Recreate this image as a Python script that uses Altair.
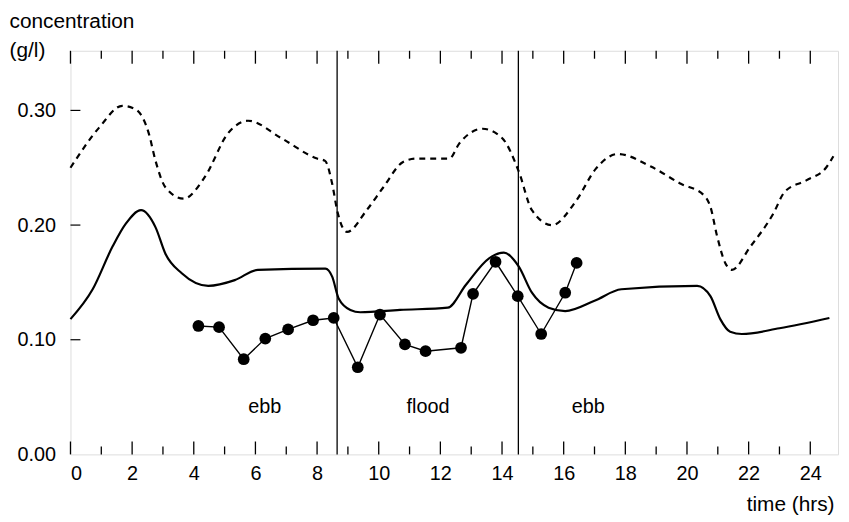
import altair as alt
import pandas as pd

# Model curve (upper, dashed)
dashed_x = [0, 0.93, 1.68, 2.11, 2.54, 2.76, 3.08, 3.67, 4.36, 5.11,
            5.76, 6.83, 8.0, 8.26, 8.49, 8.65, 8.97, 9.61, 10.15, 10.79,
            11.22, 12.29, 12.61, 13.37, 14.0, 14.54, 14.97, 15.62, 16.4, 17.04,
            17.76, 18.83, 19.8, 20.55, 20.76, 20.98, 21.24, 21.46, 22.05, 22.8,
            23.17, 23.87, 24.51, 24.75]
dashed_y = [0.250, 0.285, 0.304, 0.301, 0.280, 0.256, 0.233, 0.223, 0.242, 0.280,
            0.291, 0.276, 0.258, 0.256, 0.236, 0.213, 0.194, 0.213, 0.233, 0.255,
            0.258, 0.258, 0.271, 0.284, 0.276, 0.247, 0.213, 0.200, 0.221, 0.249,
            0.262, 0.251, 0.236, 0.226, 0.216, 0.190, 0.167, 0.161, 0.181, 0.210,
            0.229, 0.239, 0.250, 0.260]

# Model curve (lower, solid)
solid_x = [0, 0.72, 1.36, 1.79, 2.29, 2.76, 3.08, 3.61, 4.47, 5.33,
           6.08, 8.27, 8.49, 8.70, 9.08, 9.40, 10.69, 12.24, 12.83, 13.58,
           14.06, 14.54, 14.97, 15.51, 16.05, 17.0, 17.87, 20.33, 20.76, 21.08,
           21.4, 21.78, 23.0, 24.62]
solid_y = [0.118, 0.144, 0.181, 0.201, 0.213, 0.198, 0.175, 0.158, 0.147, 0.152,
           0.161, 0.162, 0.155, 0.136, 0.126, 0.124, 0.126, 0.128, 0.148, 0.171,
           0.176, 0.164, 0.141, 0.128, 0.125, 0.134, 0.144, 0.147, 0.138, 0.118,
           0.107, 0.105, 0.110, 0.119]

# Measurements
obs_x = [4.15, 4.82, 5.62, 6.32, 7.06, 7.87, 8.54, 9.32, 10.04, 10.85,
         11.52, 12.67, 13.06, 13.79, 14.51, 15.27, 16.05, 16.42]
obs_y = [0.112, 0.111, 0.083, 0.101, 0.109, 0.117, 0.119, 0.076, 0.122, 0.096,
         0.090, 0.093, 0.140, 0.168, 0.138, 0.105, 0.141, 0.167]

# Tide change times
tide_x = [8.65, 14.53]

# Phase labels
phase_labels = ["ebb", "flood", "ebb"]
phase_x = [6.3, 11.6, 16.8]
phase_y = [0.041, 0.041, 0.041]

x_labels = list(range(0, 25, 2))
x_minor = list(range(1, 25, 2))
y_labels = [0.0, 0.1, 0.2, 0.3]
y_ticks = [0.1, 0.2, 0.3]

W, H = 774, 407
FONT = "Liberation Sans"

xscale = alt.Scale(domain=[0, 24.9], nice=False, zero=False)
yscale = alt.Scale(domain=[0, 0.352], nice=False)

xaxis = alt.Axis(values=x_labels, labelFontSize=20, labelPadding=9, labelFont=FONT,
                 labelColor="black", title="time (hrs)", titleFont=FONT,
                 titleFontSize=21, titleFontWeight="normal", titleColor="black",
                 titleX=W - 4, titleY=51, titleAlign="right", titleBaseline="middle",
                 domain=False, ticks=False, grid=False)
yaxis = alt.Axis(values=y_labels, format=".2f", labelFontSize=20, labelPadding=15,
                 labelFont=FONT, labelColor="black",
                 title=["concentration", "(g/l)"], titleFont=FONT, titleFontSize=21,
                 titleFontWeight="normal", titleColor="black", titleAngle=0,
                 titleAlign="left", titleBaseline="top", titleX=-62, titleY=-40,
                 titleLineHeight=29, domain=False, ticks=False, grid=False)

X = alt.X("x:Q", scale=xscale, axis=xaxis)
Y = alt.Y("y:Q", scale=yscale, axis=yaxis)

dashed_df = pd.DataFrame({"x": dashed_x, "y": dashed_y})
solid_df = pd.DataFrame({"x": solid_x, "y": solid_y})
obs_df = pd.DataFrame({"x": obs_x, "y": obs_y})
tide_df = pd.DataFrame({"x": tide_x})
phase_df = pd.DataFrame({"x": phase_x, "y": phase_y, "label": phase_labels})
major_df = pd.DataFrame({"x": x_labels})
minor_df = pd.DataFrame({"x": x_minor})
yt_df = pd.DataFrame({"y": y_ticks})

dashed = alt.Chart(dashed_df).mark_line(color="black", strokeWidth=2.2,
                                        strokeDash=[6, 5], interpolate="monotone").encode(x=X, y=Y)
solid = alt.Chart(solid_df).mark_line(color="black", strokeWidth=2.2,
                                      interpolate="monotone").encode(x=X, y=Y)
obs_line = alt.Chart(obs_df).mark_line(color="black", strokeWidth=1.4).encode(x=X, y=Y)
obs_pts = alt.Chart(obs_df).mark_circle(color="black", size=140, opacity=1).encode(x=X, y=Y)
tides = alt.Chart(tide_df).mark_rule(color="black", strokeWidth=1.3).encode(x=X)
phases = alt.Chart(phase_df).mark_text(font=FONT, fontSize=20, color="black").encode(
    x=X, y=Y, text="label:N")

bot_major = alt.Chart(major_df).mark_rule(color="black", strokeWidth=1.3).encode(
    x=X, y=alt.value(H), y2=alt.value(H - 13))
bot_minor = alt.Chart(minor_df).mark_rule(color="black", strokeWidth=1.3).encode(
    x=X, y=alt.value(H), y2=alt.value(H - 8))
top_major = alt.Chart(major_df).mark_rule(color="black", strokeWidth=1.3).encode(
    x=X, y=alt.value(0), y2=alt.value(13))
top_minor = alt.Chart(minor_df).mark_rule(color="black", strokeWidth=1.3).encode(
    x=X, y=alt.value(0), y2=alt.value(8))
left_ticks = alt.Chart(yt_df).mark_rule(color="black", strokeWidth=1.2).encode(
    y=Y, x=alt.value(0), x2=alt.value(10))

chart = alt.layer(
    dashed, solid, obs_line, obs_pts, tides, phases,
    bot_major, bot_minor, top_major, top_minor, left_ticks
).properties(
    width=W, height=H,
    padding={"left": 63, "top": 41, "right": 3, "bottom": 64},
    autosize=alt.AutoSizeParams(type="none"),
).configure_view(
    stroke="black", strokeWidth=1.4
).configure(background="white")

chart.save("out.html", embed_options={"renderer": "svg", "actions": False})
